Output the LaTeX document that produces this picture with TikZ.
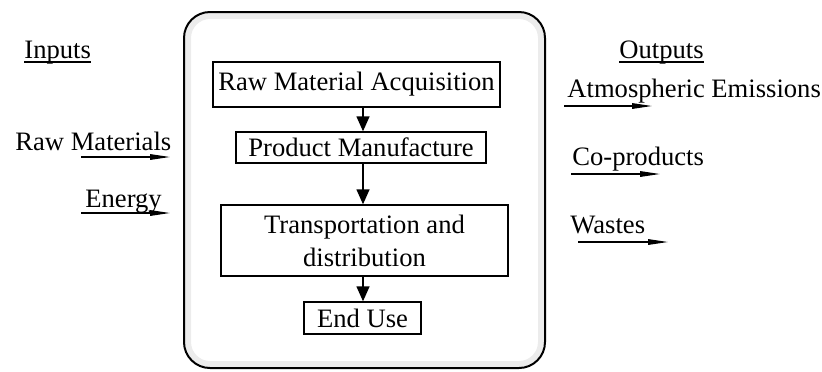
\documentclass[tikz,border=0pt]{standalone}
\usepackage{fontspec}
\setmainfont{Liberation Serif}
\usetikzlibrary{positioning, arrows.meta, calc}

\begin{document}
\begin{tikzpicture}[x=0.5pt, y=-0.5pt,
    every node/.style={font=\fontsize{13.3}{16.5}\selectfont},
    stage/.style={draw, line width=0.7pt, align=center, inner sep=0pt},
    lbl/.style={anchor=base west, inner sep=0pt},
    flow/.style={line width=0.7pt, -{Triangle[length=7.5pt, width=6.5pt]}},
    io/.style={line width=0.6pt, -{Triangle[length=10pt, width=2.8pt]}}]
    \useasboundingbox (0,0) rectangle (822,371);
    % Cadre du cycle de vie
    \draw[gray!15, line width=3pt, rounded corners=11pt] (188,16) rectangle (541,364);
    \draw[line width=1pt, rounded corners=13pt] (184,12) rectangle (545,368);
    % Etapes
    \node[stage, minimum width=143.5pt, minimum height=22.5pt] (acq) at (356.5,84.5) {Raw Material Acquisition};
    \node[stage, minimum width=125pt, minimum height=15.5pt] (man) at (361,147.5) {Product Manufacture};
    \node[stage, minimum width=143.5pt, minimum height=35.5pt] (tra) at (364.5,240.5) {Transportation and\\distribution};
    \node[stage, minimum width=58.5pt, minimum height=16pt] (use) at (362.5,318) {End Use};
    \draw[flow] (acq.south -| 363,0) -- (man.north -| 363,0);
    \draw[flow] (man.south -| 363,0) -- (tra.north -| 363,0);
    \draw[flow] (tra.south -| 363,0) -- (use.north -| 363,0);
    % Entrees
    \node[lbl] (inp) at (24,58) {Inputs};
    \draw[line width=0.6pt] ($(inp.base west)+(0,4)$) -- ($(inp.base east)+(0,4)$);
    \node[lbl] (raw) at (15,150) {Raw Materials};
    \node[lbl] (ene) at (85,207) {Energy};
    \coordinate (raw-a) at (81,157);
    \coordinate (raw-b) at (170,157);
    \coordinate (ene-a) at (81,213);
    \coordinate (ene-b) at (170,213);
    \draw[io] (raw-a) -- (raw-b);
    \draw[io] (ene-a) -- (ene-b);
    % Sorties
    \node[lbl] (out) at (619,58) {Outputs};
    \draw[line width=0.6pt] ($(out.base west)+(0,4)$) -- ($(out.base east)+(0,4)$);
    \node[lbl] (atm) at (567,97) {Atmospheric Emissions};
    \node[lbl] (cop) at (572,165) {Co-products};
    \node[lbl] (was) at (570,233) {Wastes};
    \coordinate (atm-a) at (564,106);
    \coordinate (atm-b) at (652,106);
    \coordinate (cop-a) at (571,174);
    \coordinate (cop-b) at (660,174);
    \coordinate (was-a) at (578,242);
    \coordinate (was-b) at (668,242);
    \draw[io] (atm-a) -- (atm-b);
    \draw[io] (cop-a) -- (cop-b);
    \draw[io] (was-a) -- (was-b);
\end{tikzpicture}
\end{document}
